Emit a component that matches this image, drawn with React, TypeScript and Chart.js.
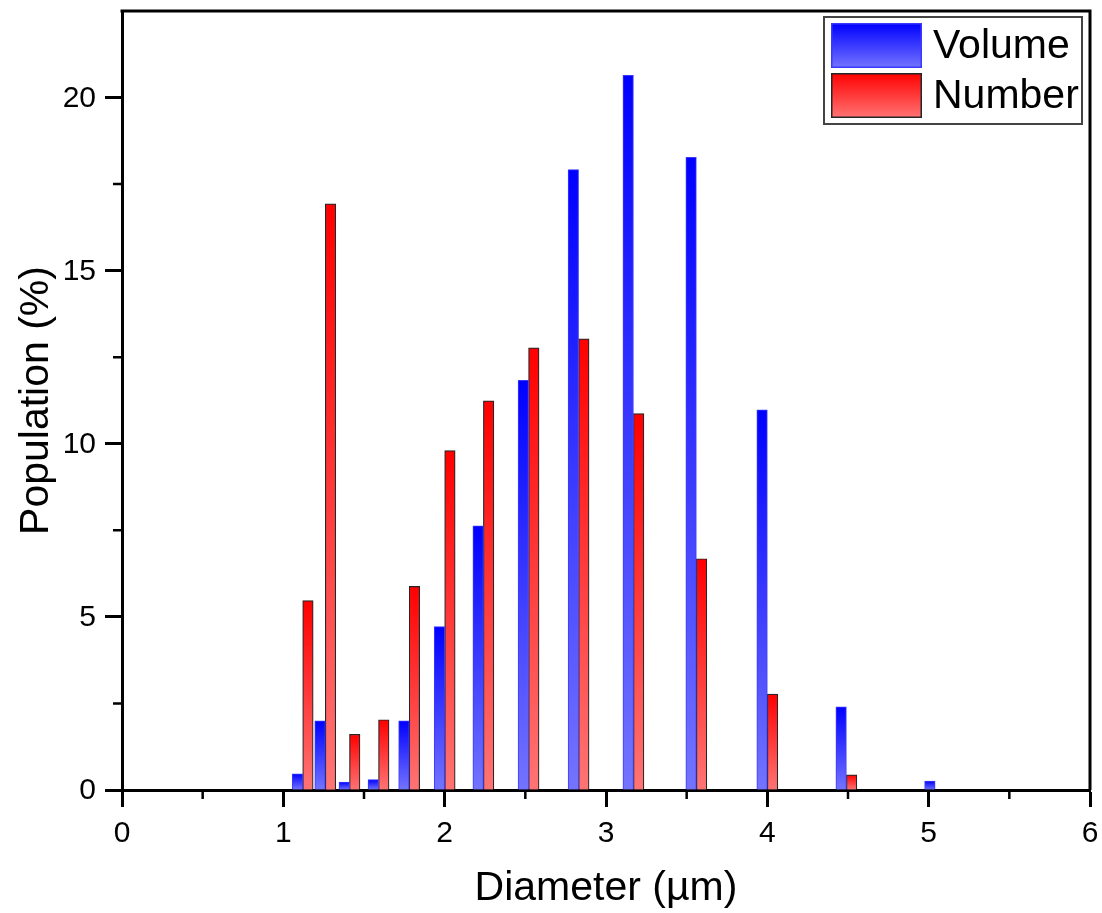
import React, { useEffect, useRef } from 'react';
import { Chart, registerables } from 'chart.js';

Chart.register(...registerables);

// ---- data ----
const diameters = [1.12, 1.26, 1.41, 1.59, 1.78, 2.0, 2.24, 2.52, 2.83, 3.17, 3.56, 4.0, 4.49, 5.04];
const volumePct = [0.47, 2.0, 0.23, 0.3, 2.0, 4.72, 7.63, 11.83, 17.92, 20.64, 18.27, 10.98, 2.4, 0.26];
const numberPct: (number | null)[] = [5.47, 16.93, 1.61, 2.03, 5.88, 9.8, 11.24, 12.77, 13.03, 10.87, 6.68, 2.77, 0.44, null];

const seriesLabels = ['Volume', 'Number'];
const xMajorTicks = [0, 1, 2, 3, 4, 5, 6];
const xTickLabels = ['0', '1', '2', '3', '4', '5', '6'];
const xMinorTicks = [0.5, 1.5, 2.5, 3.5, 4.5, 5.5];
const yMajorTicks = [0, 5, 10, 15, 20];
const yTickLabels = ['0', '5', '10', '15', '20'];
const yMinorTicks = [2.5, 7.5, 12.5, 17.5];
const xTitle = 'Diameter (µm)';
const yTitle = 'Population (%)';

const FONT = "'Liberation Sans', Arial, sans-serif";

const COLORS = {
  volume: { top: '#0000ff', bottom: '#7474ff', border: '#3a3aff' },
  number: { top: '#ff0000', bottom: '#ff7474', border: '#262626' },
};

const barGradient = (top: string, bottom: string) => (ctx: any) => {
  const chart = ctx.chart;
  const y = chart.scales && chart.scales.y;
  if (!y || ctx.type !== 'data') return top;
  const v = ctx.parsed ? ctx.parsed.y : null;
  if (v == null || !isFinite(v)) return top;
  const yTop = y.getPixelForValue(v);
  const yBot = y.getPixelForValue(0);
  if (!isFinite(yTop) || !isFinite(yBot) || Math.abs(yBot - yTop) < 0.5) return top;
  const g = chart.ctx.createLinearGradient(0, yTop, 0, yBot);
  g.addColorStop(0, top);
  g.addColorStop(1, bottom);
  return g;
};

const MAJOR_LEN = 17;
const MINOR_LEN = 9;

const frameTicksPlugin = {
  id: 'frameTicks',
  afterDraw(chart: any) {
    const c = chart.ctx;
    const a = chart.chartArea;
    const xs = chart.scales.x;
    const ys = chart.scales.y;
    c.save();
    c.strokeStyle = '#000';
    c.lineWidth = 3;
    c.beginPath();
    c.moveTo(a.left - 1.5, a.top);
    c.lineTo(a.right, a.top);
    c.lineTo(a.right, a.bottom);
    c.stroke();
    // minor ticks
    c.lineWidth = 2.5;
    c.beginPath();
    xMinorTicks.forEach((v) => {
      const px = xs.getPixelForValue(v);
      c.moveTo(px, a.bottom);
      c.lineTo(px, a.bottom + MINOR_LEN);
    });
    yMinorTicks.forEach((v) => {
      const py = ys.getPixelForValue(v);
      c.moveTo(a.left, py);
      c.lineTo(a.left - MINOR_LEN, py);
    });
    c.stroke();
    // tick labels
    c.fillStyle = '#000';
    c.font = `30px ${FONT}`;
    c.textBaseline = 'middle';
    c.textAlign = 'center';
    xMajorTicks.forEach((v, i) => {
      c.fillText(xTickLabels[i], xs.getPixelForValue(v), a.bottom + 44);
    });
    c.textAlign = 'right';
    yMajorTicks.forEach((v, i) => {
      c.fillText(yTickLabels[i], a.left - MAJOR_LEN - 9, ys.getPixelForValue(v) + 1);
    });
    c.restore();
  },
};

const boxLegendPlugin = {
  id: 'boxLegend',
  afterDraw(chart: any) {
    const c = chart.ctx;
    const a = chart.chartArea;
    const bx = a.right - 266;
    const by = a.top + 6;
    const bw = 258;
    const bh = 107;
    c.save();
    c.fillStyle = '#fff';
    c.fillRect(bx, by, bw, bh);
    c.strokeStyle = '#444';
    c.lineWidth = 2;
    c.strokeRect(bx, by, bw, bh);
    const items = chart.data.datasets.map((ds: any, i: number) => ({
      label: ds.label,
      col: i === 0 ? COLORS.volume : COLORS.number,
    }));
    items.forEach((it: any, i: number) => {
      const sx = bx + 7;
      const sy = by + 6 + i * 50;
      const sw = 91;
      const sh = 45;
      const g = c.createLinearGradient(0, sy, 0, sy + sh);
      g.addColorStop(0, it.col.top);
      g.addColorStop(1, it.col.bottom);
      c.fillStyle = g;
      c.fillRect(sx, sy, sw, sh);
      c.strokeStyle = it.col.border;
      c.lineWidth = 1.5;
      c.strokeRect(sx + 0.75, sy + 0.75, sw - 1.5, sh - 1.5);
      c.fillStyle = '#000';
      c.font = `41px ${FONT}`;
      c.textBaseline = 'middle';
      c.textAlign = 'left';
      c.fillText(it.label, bx + 109, sy + sh / 2 + 1);
    });
    c.restore();
  },
};

export default function App() {
  const ref = useRef<HTMLCanvasElement | null>(null);

  useEffect(() => {
    if (!ref.current) return;
    const chart = new Chart(ref.current, {
      type: 'bar',
      data: {
        datasets: [
          {
            label: seriesLabels[0],
            data: diameters.map((d, i) => ({ x: d, y: volumePct[i] })),
            backgroundColor: barGradient(COLORS.volume.top, COLORS.volume.bottom) as any,
            borderColor: COLORS.volume.border,
            borderWidth: 1,
            borderSkipped: 'start',
            barThickness: 10.5,
            grouped: true,
          },
          {
            label: seriesLabels[1],
            data: diameters.map((d, i) => ({ x: d, y: numberPct[i] })),
            backgroundColor: barGradient(COLORS.number.top, COLORS.number.bottom) as any,
            borderColor: COLORS.number.border,
            borderWidth: 1.2,
            borderSkipped: 'start',
            barThickness: 10.5,
            grouped: true,
          },
        ] as any,
      },
      plugins: [frameTicksPlugin, boxLegendPlugin],
      options: {
        animation: false,
        responsive: false,
        devicePixelRatio: 1,
        layout: { padding: { left: 0, right: 12, top: 11, bottom: 0 } },
        plugins: {
          legend: { display: false },
          tooltip: { enabled: false },
        },
        scales: {
          x: {
            type: 'linear',
            min: 0,
            max: 6,
            offset: false,
            afterBuildTicks: (s: any) => {
              s.ticks = xMajorTicks.map((v) => ({ value: v }));
            },
            afterFit: (s: any) => {
              s.height = 123;
              s.paddingLeft = 0;
              s.paddingRight = 0;
            },
            grid: {
              display: true,
              offset: false,
              drawOnChartArea: false,
              drawTicks: true,
              tickLength: MAJOR_LEN,
              tickWidth: 3,
              tickColor: '#000',
            },
            border: { display: true, color: '#000', width: 3 },
            ticks: { display: false, autoSkip: false },
            title: {
              display: true,
              text: xTitle,
              color: '#000',
              font: { family: FONT, size: 41, lineHeight: 1.2 },
              padding: { top: 0, bottom: 0 },
            },
          },
          y: {
            type: 'linear',
            min: 0,
            max: 22.5,
            afterBuildTicks: (s: any) => {
              s.ticks = yMajorTicks.map((v) => ({ value: v }));
            },
            afterFit: (s: any) => {
              s.width = 122;
              s.paddingTop = 0;
              s.paddingBottom = 0;
            },
            grid: {
              display: true,
              offset: false,
              drawOnChartArea: false,
              drawTicks: true,
              tickLength: MAJOR_LEN,
              tickWidth: 3,
              tickColor: '#000',
            },
            border: { display: true, color: '#000', width: 3 },
            ticks: { display: false, autoSkip: false },
            title: {
              display: true,
              text: yTitle,
              color: '#000',
              font: { family: FONT, size: 41, lineHeight: 1.2 },
              padding: { top: 12, bottom: 0 },
            },
          },
        },
      } as any,
    });
    return () => chart.destroy();
  }, []);

  return (
    <canvas
      ref={ref}
      width={1102}
      height={913}
      style={{ position: 'absolute', left: 0, top: 0, width: 1102, height: 913 }}
    />
  );
}
